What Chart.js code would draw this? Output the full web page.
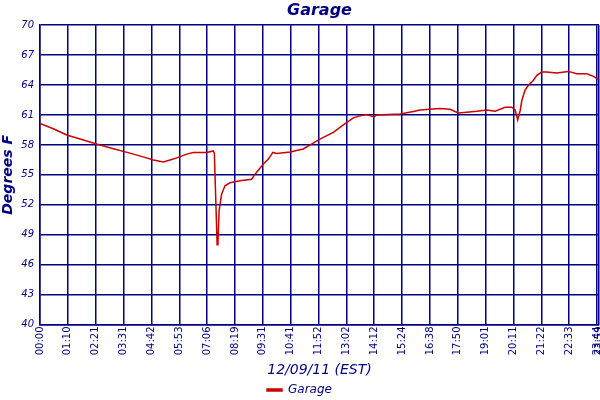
<!DOCTYPE html>
<html>
<head>
<meta charset="utf-8">
<script src="https://cdn.jsdelivr.net/npm/chart.js@4"></script>
<style>
html,body{margin:0;padding:0;background:#fff;}
#wrap{width:600px;height:400px;}
</style>
</head>
<body>
<div id="wrap"><canvas id="c" width="600" height="400"></canvas></div>
<script>
// Tick labels (category-like positions, one per grid column)
const tickLabels = ["00:00","01:10","02:21","03:31","04:42","05:53","07:06","08:19","09:31","10:41",
  "11:52","13:02","14:12","15:24","16:38","17:50","19:01","20:11","21:22","22:33","23:44","23:59"];
const tickPositions = [0,1,2,3,4,5,6,7,8,9,10,11,12,13,14,15,16,17,18,19,20,20.07];

// Sample positions (in tick-interval units) and temperatures (deg F)
const samplePos = [0, 0.5, 0.96, 1.5, 2.03, 2.6, 3.23, 3.7, 4.07, 4.43, 4.79, 5.27, 5.5, 5.99, 6.22, 6.26,
  6.36, 6.39, 6.43, 6.52, 6.64, 6.82, 7.18, 7.6, 7.72, 8.02, 8.2, 8.36, 8.5, 8.98, 9.45, 9.69, 10.05,
  10.53, 10.89, 11.25, 11.49, 11.73, 11.99, 12.09, 12.93, 13.41, 13.64, 14.36, 14.72, 15.02, 15.32,
  15.68, 16.04, 16.34, 16.7, 16.94, 17.06, 17.15, 17.24, 17.3, 17.41, 17.53, 17.71, 17.84, 18.01,
  18.19, 18.55, 18.97, 19.27, 19.63, 19.87, 20.05];
const garageTemps = [60.15, 59.6, 59.0, 58.55, 58.09, 57.65, 57.18, 56.8, 56.48, 56.28, 56.58, 57.08, 57.25, 57.25, 57.4, 57.2,
  48.0, 48.3, 51.4, 53.05, 53.9, 54.2, 54.4, 54.56, 55.07, 56.08, 56.58, 57.25, 57.15, 57.3, 57.59, 57.99, 58.59,
  59.26, 60.0, 60.71, 60.91, 61.05, 60.8, 61.0, 61.1, 61.34, 61.5, 61.64, 61.57, 61.2, 61.27,
  61.37, 61.51, 61.37, 61.78, 61.78, 61.51, 60.5, 61.44, 62.45, 63.46, 63.96, 64.46, 64.97, 65.3,
  65.3, 65.2, 65.37, 65.14, 65.14, 64.87, 64.56];
const yTicks = [40,43,46,49,52,55,58,61,64,67,70];

const NAVY = '#000080';
const RED = '#cc0000';
const FONT = "'DejaVu Sans', Verdana, sans-serif";

const points = samplePos.map((p, i) => ({x: p, y: garageTemps[i]}));

new Chart(document.getElementById('c'), {
  type: 'line',
  data: {
    datasets: [{
      label: 'Garage',
      data: points,
      borderColor: RED,
      backgroundColor: RED,
      borderWidth: 1.5,
      pointRadius: 0,
      tension: 0
    }]
  },
  options: {
    responsive: false,
    animation: false,
    layout: {padding: {left: 0, right: 1, top: 0, bottom: -6}},
    plugins: {
      title: {
        display: true,
        text: 'Garage',
        color: NAVY,
        fullSize: false,
        font: {family: FONT, size: 16, style: 'italic', weight: 'bold'},
        padding: {top: 1, bottom: 5}
      },
      legend: {
        display: true,
        position: 'bottom',
        labels: {
          color: NAVY,
          font: {family: FONT, size: 12, style: 'italic'},
          boxWidth: 15,
          boxHeight: 2,
          padding: 1.5
        }
      },
      tooltip: {enabled: false}
    },
    scales: {
      x: {
        type: 'linear',
        min: tickPositions[0],
        max: tickPositions[tickPositions.length - 1],
        afterBuildTicks: (scale) => { scale.ticks = tickPositions.map(v => ({value: v})); },
        afterFit: (scale) => { scale.height = 58; scale.paddingLeft = 0; scale.paddingRight = 0; },
        ticks: {
          autoSkip: false,
          maxRotation: 90,
          minRotation: 90,
          color: NAVY,
          padding: 2,
          font: {family: FONT, size: 10},
          callback: (v, i) => tickLabels[i]
        },
        grid: {color: NAVY, lineWidth: 1.5, drawTicks: false},
        border: {color: NAVY, width: 1.5},
        title: {
          display: true,
          text: '12/09/11 (EST)',
          color: NAVY,
          font: {family: FONT, size: 14, style: 'italic'},
          padding: {top: 0, bottom: 4}
        }
      },
      y: {
        min: 40,
        max: 70,
        afterBuildTicks: (scale) => { scale.ticks = yTicks.map(v => ({value: v})); },
        afterFit: (scale) => { scale.width = 40; },
        ticks: {
          color: NAVY,
          padding: 6,
          font: {family: FONT, size: 10, style: 'italic'}
        },
        grid: {color: NAVY, lineWidth: 1.5, drawTicks: false},
        border: {color: NAVY, width: 1.5},
        title: {
          display: true,
          text: 'Degrees F',
          color: NAVY,
          font: {family: FONT, size: 14, style: 'italic', weight: 'bold'},
          padding: {top: 0, bottom: 0}
        }
      }
    }
  }
});
</script>
</body>
</html>
